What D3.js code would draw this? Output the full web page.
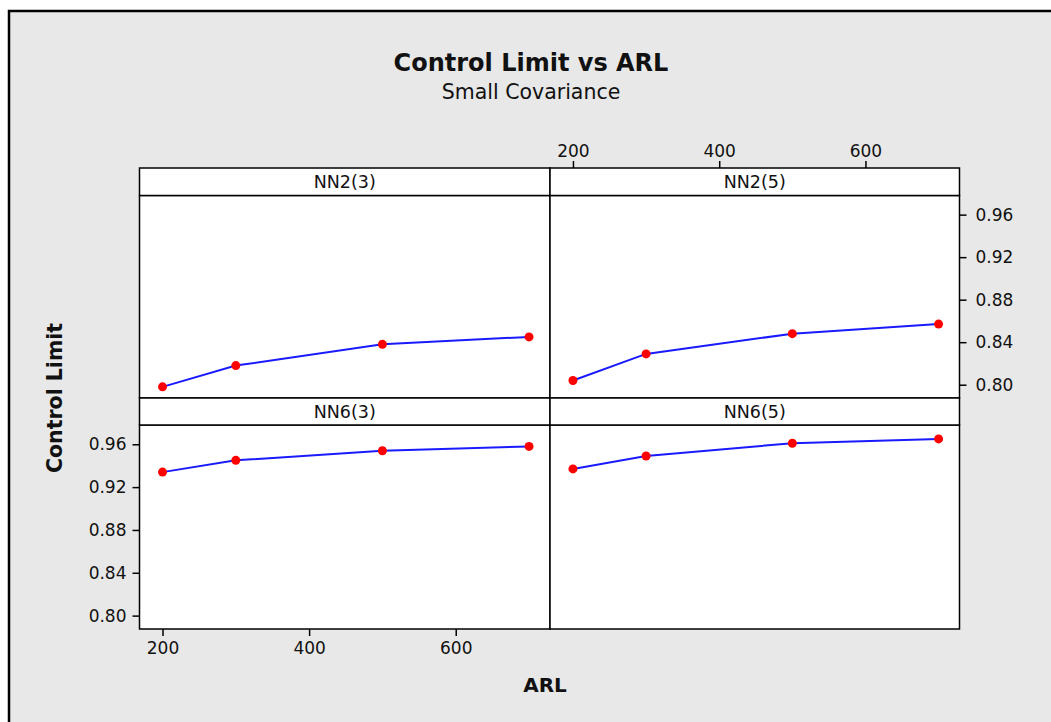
<!DOCTYPE html>
<html>
<head>
<meta charset="utf-8">
<script src="https://cdn.jsdelivr.net/npm/d3@7"></script>
<style>
  body { margin: 0; background: #fff; }
  svg text { font-family: "DejaVu Sans", sans-serif; fill: #111; }
</style>
</head>
<body>
<div id="chart"></div>
<script>
// chart data
const arl = [200, 300, 500, 700];
const panelNames = ["NN2(3)", "NN2(5)", "NN6(3)", "NN6(5)"];
const nn2_3 = [0.798, 0.818, 0.838, 0.845];
const nn2_5 = [0.804, 0.829, 0.848, 0.857];
const nn6_3 = [0.934, 0.945, 0.954, 0.958];
const nn6_5 = [0.937, 0.949, 0.961, 0.965];
const xTicks = [200, 400, 600];
const yTicks = [0.80, 0.84, 0.88, 0.92, 0.96];

const series = [nn2_3, nn2_5, nn6_3, nn6_5];

var width = 1051, height = 722;

// panel grid
var colX = [139.5, 550, 959.5];
var rows = [
  {stripTop: 168, top: 195.5, bottom: 398},
  {stripTop: 398, top: 425, bottom: 629}
];

var svg = d3.select("#chart")
  .append("svg")
    .attr("width", width)
    .attr("height", height);

// gray page with black frame on top / left
svg.append("rect")
  .attr("x", 9).attr("y", 11)
  .attr("width", width).attr("height", height)
  .attr("fill", "#e8e8e8");
svg.append("path")
  .attr("d", `M9,${height} V11 H${width}`)
  .attr("fill", "none")
  .attr("stroke", "#000")
  .attr("stroke-width", 2.5);

// titles
svg.append("text")
  .attr("x", 531).attr("y", 71)
  .attr("text-anchor", "middle")
  .style("font-size", "24px").style("font-weight", "bold")
  .text("Control Limit vs ARL");
svg.append("text")
  .attr("x", 531).attr("y", 99)
  .attr("text-anchor", "middle")
  .style("font-size", "20.5px")
  .text("Small Covariance");

svg.append("text")
  .attr("transform", "translate(62,398) rotate(-90)")
  .attr("text-anchor", "middle")
  .style("font-size", "20.5px").style("font-weight", "bold")
  .text("Control Limit");
svg.append("text")
  .attr("x", 545).attr("y", 692)
  .attr("text-anchor", "middle")
  .style("font-size", "20px").style("font-weight", "bold")
  .text("ARL");

const line = d3.line();

function styleAxis(g) {
  g.select(".domain").remove();
  g.selectAll(".tick line").attr("stroke", "#000").attr("stroke-width", 1.5);
  g.selectAll(".tick text").style("font-size", "17px").attr("fill", "#111");
}

panelNames.forEach(function(name, i) {
  var col = i % 2, row = rows[Math.floor(i / 2)];
  var x0 = colX[col], x1 = colX[col + 1];

  var x = d3.scaleLinear().domain([168.6, 728.6]).range([x0, x1]);
  var y = d3.scaleLinear().domain([0.7875, 0.978]).range([row.bottom, row.top]);

  // panel + strip
  svg.append("rect")
    .attr("x", x0).attr("y", row.top)
    .attr("width", x1 - x0).attr("height", row.bottom - row.top)
    .attr("fill", "#fff").attr("stroke", "#000").attr("stroke-width", 1.5);
  svg.append("rect")
    .attr("x", x0).attr("y", row.stripTop)
    .attr("width", x1 - x0).attr("height", row.top - row.stripTop)
    .attr("fill", "#fff").attr("stroke", "#000").attr("stroke-width", 1.5);
  svg.append("text")
    .attr("x", (x0 + x1) / 2).attr("y", (row.stripTop + row.top) / 2 + 6.5)
    .attr("text-anchor", "middle")
    .style("font-size", "17.5px")
    .text(name);

  var pts = arl.map((a, k) => [x(a), y(series[i][k])]);

  svg.append("path")
    .attr("d", line(pts))
    .attr("fill", "none")
    .attr("stroke", "#1a1aff")
    .attr("stroke-width", 2);

  svg.selectAll(null)
    .data(pts)
    .join("circle")
      .attr("cx", d => d[0])
      .attr("cy", d => d[1])
      .attr("r", 4.5)
      .attr("fill", "#ff0000");

  // Minitab style alternating axes
  if (i === 1) {
    svg.append("g")
      .attr("transform", `translate(0,${rows[0].stripTop})`)
      .call(d3.axisTop(x).tickValues(xTicks).tickSize(7).tickPadding(4))
      .call(styleAxis);
    svg.append("g")
      .attr("transform", `translate(${x1},0)`)
      .call(d3.axisRight(y).tickValues(yTicks).tickFormat(d3.format(".2f")).tickSize(7).tickPadding(9))
      .call(styleAxis);
  }
  if (i === 2) {
    svg.append("g")
      .attr("transform", `translate(0,${row.bottom})`)
      .call(d3.axisBottom(x).tickValues(xTicks).tickSize(7).tickPadding(6))
      .call(styleAxis);
    svg.append("g")
      .attr("transform", `translate(${x0},0)`)
      .call(d3.axisLeft(y).tickValues(yTicks).tickFormat(d3.format(".2f")).tickSize(7).tickPadding(6))
      .call(styleAxis);
  }
});
</script>
</body>
</html>
